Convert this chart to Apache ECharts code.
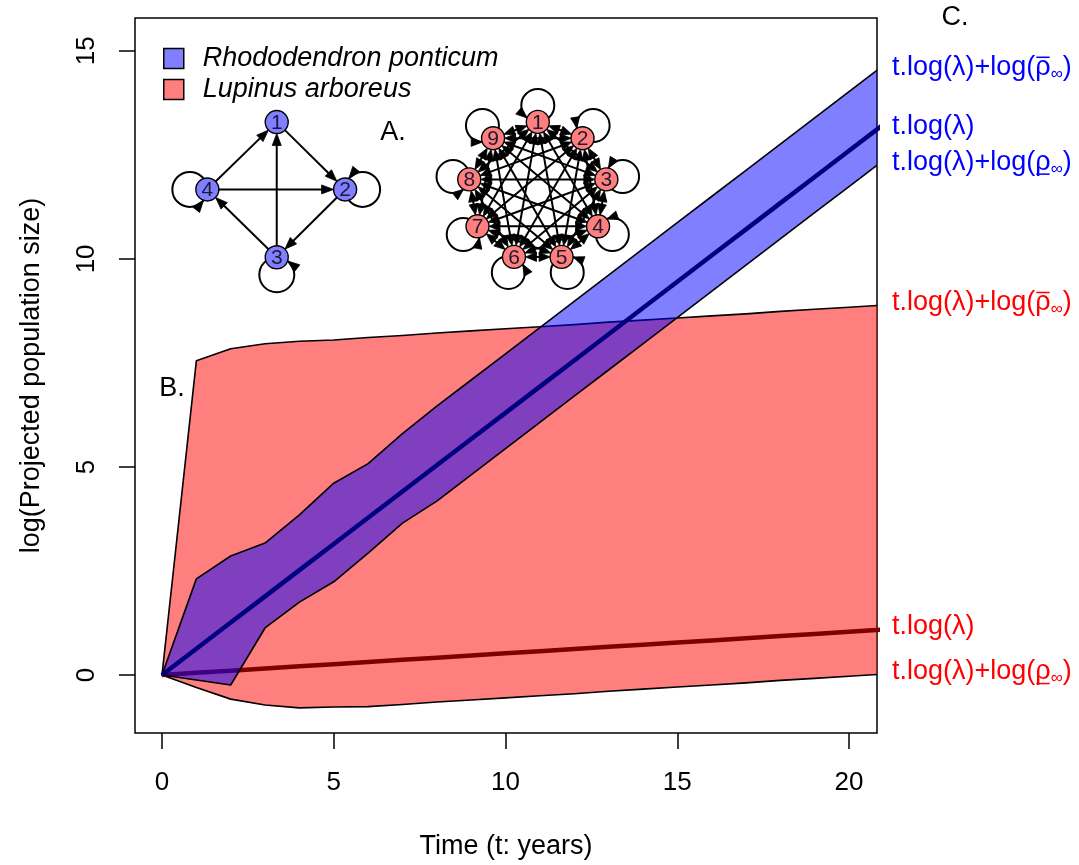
<!DOCTYPE html>
<html>
<head>
<meta charset="utf-8">
<script src="https://cdn.jsdelivr.net/npm/echarts@6/dist/echarts.min.js"></script>
<style>html,body{margin:0;padding:0;background:#fff}#c{width:1079px;height:865px}</style>
</head>
<body>
<div id="c"></div>
<script>
// ---------------- data ----------------
const years = [0,1,2,3,4,5,6,7,8,9,10,11,12,13,14,15,16,17,18,19,20,21];
const rhodoMean  = [0,0.63,1.26,1.89,2.52,3.15,3.78,4.41,5.04,5.67,6.30,6.93,7.56,8.19,8.82,9.45,10.08,10.71,11.34,11.97,12.60,13.23];
const rhodoUpper = [0,2.31,2.86,3.17,3.85,4.61,5.08,5.80,6.46,7.09,7.72,8.35,8.98,9.61,10.24,10.87,11.50,12.13,12.76,13.39,14.02,14.65];
const rhodoLower = [0,-0.12,-0.24,1.13,1.75,2.24,2.93,3.65,4.18,4.81,5.44,6.07,6.70,7.33,7.96,8.59,9.22,9.85,10.48,11.11,11.74,12.37];
const lupinMean  = [0,0.052,0.104,0.156,0.208,0.26,0.312,0.364,0.416,0.468,0.52,0.572,0.624,0.676,0.728,0.78,0.832,0.884,0.936,0.988,1.04,1.092];
const lupinUpper = [0,7.55,7.84,7.96,8.02,8.05,8.11,8.16,8.22,8.27,8.32,8.37,8.42,8.48,8.53,8.58,8.63,8.68,8.74,8.79,8.84,8.89];
const lupinLower = [0,-0.30,-0.58,-0.72,-0.79,-0.77,-0.76,-0.71,-0.65,-0.60,-0.55,-0.50,-0.45,-0.39,-0.34,-0.29,-0.24,-0.19,-0.13,-0.08,-0.03,0.02];
const xTicks = [0,5,10,15,20];
const yTicks = [0,5,10,15];
const seriesNames = ['Rhododendron ponticum','Lupinus arboreus'];
// life-cycle graph insets (node positions in axis units)
const rhodoNodeT = [3.34,5.33,3.34,1.32];
const rhodoNodeV = [13.29,11.67,10.04,11.67];
const rhodoEdges = [[4,1],[1,2],[4,2],[3,1],[2,3],[3,4]];
const rhodoLoops = [4,2,3];
const lupinNetCentre = [10.94,11.62];
const lupinNodeCount = 9;
const lupinLoops = [1,2,3,4,5,6,7,8,9];

// ---------------- layout / style ----------------
const X_MIN = -0.786, X_MAX = 20.815, Y_MIN = -1.394, Y_MAX = 15.79;
const FONT = '"Liberation Sans", Arial, sans-serif';
const mctx = document.createElement('canvas').getContext('2d');
function tw(s, f){ mctx.font = f; return mctx.measureText(s).width; }
function xy(arr){ return years.map((t,i)=>[t, arr[i]]); }
function valueAt(arr, t){
  for (let i=0;i<years.length-1;i++){
    if (t>=years[i] && t<=years[i+1]){ const f=(t-years[i])/(years[i+1]-years[i]); return arr[i]+f*(arr[i+1]-arr[i]); }
  }
  return arr[arr.length-1];
}

function bandSeries(name, upper, lower, color, z){
  return {
    type:'custom', name, z, clip:true, silent:true,
    itemStyle:{color},
    data:[[0,0]],
    renderItem(params, api){
      const pts=[];
      for (let i=0;i<years.length;i++) pts.push(api.coord([years[i], upper[i]]));
      for (let i=years.length-1;i>=0;i--) pts.push(api.coord([years[i], lower[i]]));
      return {type:'polygon', shape:{points:pts}, style:{fill:color, stroke:'#000', lineWidth:1.6, lineJoin:'round'}};
    }
  };
}

function arrow(p, d, L, W){
  const bx=p[0]-d[0]*L, by=p[1]-d[1]*L;
  return {type:'polygon', shape:{points:[[p[0],p[1]],[bx+d[1]*W, by-d[0]*W],[bx-d[1]*W, by+d[0]*W]]}, style:{fill:'#000', stroke:'#000', lineWidth:0.8}};
}

function drawNetwork(px, edges, loops, fill, twoWay, o){
  const kids=[];
  const R=o.r;
  let cx=0, cy=0; px.forEach(p=>{cx+=p[0]; cy+=p[1];}); cx/=px.length; cy/=px.length;
  loops.forEach(k=>{
    const N=px[k-1]; let ux=N[0]-cx, uy=N[1]-cy; const n=Math.hypot(ux,uy); ux/=n; uy/=n;
    const C=[N[0]+ux*o.lr, N[1]+uy*o.lr];
    kids.push({type:'circle', shape:{cx:C[0], cy:C[1], r:o.lr}, style:{fill:'none', stroke:'#000', lineWidth:o.lw}});
    const a=R*R/(2*o.lr), h=Math.sqrt(R*R-a*a);
    const P=[N[0]+ux*a+uy*h, N[1]+uy*a-ux*h];
    let tx=-(P[1]-C[1]), ty=P[0]-C[0]; const tn=Math.hypot(tx,ty); tx/=tn; ty/=tn;
    if ((N[0]-P[0])*tx+(N[1]-P[1])*ty<0){tx=-tx;ty=-ty;}
    kids.push(arrow(P,[tx,ty],o.al,o.aw));
  });
  edges.forEach(([a,b])=>{
    const A=px[a-1], B=px[b-1];
    let dx=B[0]-A[0], dy=B[1]-A[1]; const d=Math.hypot(dx,dy); dx/=d; dy/=d;
    const s=[A[0]+dx*R, A[1]+dy*R], e=[B[0]-dx*R, B[1]-dy*R];
    const s2= twoWay? [s[0]+dx*o.al*0.7, s[1]+dy*o.al*0.7] : s;
    const e2=[e[0]-dx*o.al*0.7, e[1]-dy*o.al*0.7];
    kids.push({type:'line', shape:{x1:s2[0],y1:s2[1],x2:e2[0],y2:e2[1]}, style:{stroke:'#000', lineWidth:o.lw}});
    kids.push(arrow(e,[dx,dy],o.al,o.aw));
    if (twoWay) kids.push(arrow(s,[-dx,-dy],o.al,o.aw));
  });
  px.forEach((p,i)=>{
    kids.push({type:'circle', shape:{cx:p[0], cy:p[1], r:R}, style:{fill, stroke:'#000', lineWidth:1.4}});
    kids.push({type:'text', style:{text:String(i+1), x:p[0], y:p[1]+1, font:'21px '+FONT, fill:'#1a1a33', align:'center', verticalAlign:'middle', textAlign:'center', textVerticalAlign:'middle'}});
  });
  return {type:'group', children:kids};
}

const lupinEdges=[];
for (let i=1;i<=lupinNodeCount;i++) for (let j=i+1;j<=lupinNodeCount;j++) lupinEdges.push([i,j]);

const rightLabels = [
  {arr:rhodoUpper, color:'#0000FF', mark:'over'},
  {arr:rhodoMean,  color:'#0000FF', mark:null},
  {arr:rhodoLower, color:'#0000FF', mark:'under'},
  {arr:lupinUpper, color:'#FF0000', mark:'over'},
  {arr:lupinMean,  color:'#FF0000', mark:null},
  {arr:lupinLower, color:'#FF0000', mark:'under'}
];
const LABEL_FONT='27px '+FONT, SUB_FONT='17px '+FONT;

const option = {
  animation:false,
  backgroundColor:'#fff',
  grid:{left:135, right:202, top:18, bottom:132, show:true, borderColor:'#000', borderWidth:1.5, backgroundColor:'transparent'},
  legend:{
    data:seriesNames, orient:'vertical', left:158, top:38, selectedMode:false,
    icon:'rect', itemWidth:20, itemHeight:20, itemGap:0,
    itemStyle:{borderColor:'#000', borderWidth:1.5},
    textStyle:{fontFamily:FONT, fontSize:27, fontStyle:'italic', color:'#000', lineHeight:31, padding:[0,0,0,14]}
  },
  xAxis:{
    type:'value', min:X_MIN, max:X_MAX,
    name:'Time (t: years)', nameLocation:'middle', nameGap:100,
    nameTextStyle:{fontFamily:FONT, fontSize:27, color:'#000'},
    axisLine:{show:false, onZero:false}, splitLine:{show:false},
    axisTick:{show:true, customValues:xTicks, length:16, lineStyle:{color:'#000', width:1.5}},
    axisLabel:{customValues:xTicks, margin:37, fontFamily:FONT, fontSize:26, color:'#000'}
  },
  yAxis:{
    type:'value', min:Y_MIN, max:Y_MAX,
    name:'log(Projected population size)', nameLocation:'middle', nameGap:90,
    nameTextStyle:{fontFamily:FONT, fontSize:27, color:'#000'},
    axisLine:{show:false, onZero:false}, splitLine:{show:false},
    axisTick:{show:true, customValues:yTicks, length:16, lineStyle:{color:'#000', width:1.5}},
    axisLabel:{customValues:yTicks, margin:35, rotate:90, fontFamily:FONT, fontSize:26, color:'#000'}
  },
  graphic:[
    {type:'text', x:955, y:18, style:{text:'C.', font:LABEL_FONT, fill:'#000', align:'center', verticalAlign:'middle', textAlign:'center', textVerticalAlign:'middle'}},
    {type:'text', x:393, y:133, style:{text:'A.', font:LABEL_FONT, fill:'#000', align:'center', verticalAlign:'middle', textAlign:'center', textVerticalAlign:'middle'}},
    {type:'text', x:172, y:389, style:{text:'B.', font:LABEL_FONT, fill:'#000', align:'center', verticalAlign:'middle', textAlign:'center', textVerticalAlign:'middle'}}
  ],
  series:[
    bandSeries(seriesNames[1], lupinUpper, lupinLower, 'rgba(255,0,0,0.5)', 1),
    {type:'line', name:'lupinMean', data:xy(lupinMean), showSymbol:false, z:2, silent:true, clip:true,
      lineStyle:{color:'#800000', width:4.5}},
    bandSeries(seriesNames[0], rhodoUpper, rhodoLower, 'rgba(0,0,255,0.5)', 3),
    {type:'line', name:'rhodoMean', data:xy(rhodoMean), showSymbol:false, z:4, silent:true, clip:true,
      lineStyle:{color:'#000080', width:4.5}},
    {type:'custom', name:'rhodoNet', z:10, clip:false, silent:true, data:[[0,0]],
      renderItem(params, api){
        const px = rhodoNodeT.map((t,i)=>api.coord([t, rhodoNodeV[i]]));
        return drawNetwork(px, rhodoEdges, rhodoLoops, '#7F7FFF', false, {r:11.5, lr:17.5, lw:2, al:12, aw:4.5});
      }},
    {type:'custom', name:'lupinNet', z:10, clip:false, silent:true, data:[[0,0]],
      renderItem(params, api){
        const c = api.coord(lupinNetCentre);
        const px=[];
        for (let k=0;k<lupinNodeCount;k++){
          const ang=(90-k*360/lupinNodeCount)*Math.PI/180;
          px.push([c[0]+69.6*Math.cos(ang), c[1]-69.6*Math.sin(ang)]);
        }
        return drawNetwork(px, lupinEdges, lupinLoops, '#FF7F7F', true, {r:11.5, lr:16.5, lw:2, al:11, aw:4.5});
      }},
    {type:'custom', name:'endLabels', z:20, clip:false, silent:true,
      data: rightLabels.map(s=>[X_MAX, valueAt(s.arr, X_MAX)]),
      renderItem(params, api){
        const spec=rightLabels[params.dataIndex];
        const p=api.coord([api.value(0), api.value(1)]);
        let x=p[0]+15; const y=p[1]-3;
        const kids=[];
        const push=(txt,font,yy)=>{
          kids.push({type:'text', style:{text:txt, x, y:yy, font, fill:spec.color, align:'left', verticalAlign:'middle', textAlign:'left', textVerticalAlign:'middle'}});
          const w=tw(txt,font); x+=w; return w;
        };
        if (!spec.mark){ push('t.log(λ)', LABEL_FONT, y); }
        else {
          push('t.log(λ)+log(', LABEL_FONT, y);
          const x0=x; const w=push('ρ', LABEL_FONT, y);
          const ly= spec.mark==='over'? y-10 : y+12;
          kids.push({type:'line', shape:{x1:x0+1, y1:ly, x2:x0+w-1, y2:ly}, style:{stroke:spec.color, lineWidth:1.5}});
          push('∞', SUB_FONT, y+7);
          push(')', LABEL_FONT, y);
        }
        return {type:'group', children:kids};
      }}
  ]
};
const chart = echarts.init(document.getElementById('c'), null, {renderer:'canvas'});
chart.setOption(option);
</script>
</body>
</html>
